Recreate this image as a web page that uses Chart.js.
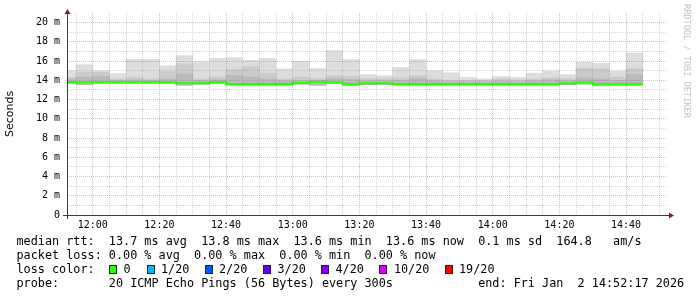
<!DOCTYPE html>
<html><head><meta charset="utf-8">
<script src="https://cdn.jsdelivr.net/npm/chart.js@4.4.1/dist/chart.umd.min.js"></script>
<style>
html,body{margin:0;padding:0;background:#fff;}
#wrap{position:relative;width:697px;height:297px;overflow:hidden;background:#fff;}
canvas{position:absolute;left:0;top:0;}
.leg{position:absolute;left:16.5px;font-family:'DejaVu Sans Mono',monospace;font-size:11.8px;line-height:14px;white-space:pre;color:#000;}
.box{position:absolute;width:8px;height:9px;box-sizing:border-box;border:1px solid #222;top:264.5px;}
.lab{position:absolute;font-family:'DejaVu Sans Mono',monospace;font-size:11.8px;line-height:14px;white-space:pre;color:#000;top:262px;}
#rrd{position:absolute;left:682px;top:4px;writing-mode:vertical-rl;font-family:'DejaVu Sans Mono',monospace;font-size:8.6px;color:#c4c4c4;}
</style></head>
<body><div id="wrap">
<canvas id="c" width="697" height="297"></canvas>
<div id="rrd">RRDTOOL / TOBI OETIKER</div>
<div class="leg" style="top:234px">median rtt:  13.7 ms avg  13.8 ms max  13.6 ms min  13.6 ms now  0.1 ms sd  164.8   am/s</div>
<div class="leg" style="top:248px">packet loss: 0.00 % avg  0.00 % max  0.00 % min  0.00 % now</div>
<div class="leg" style="top:262px">loss color:</div>
<div id="lossLegend"></div>
<div class="leg" style="top:276px">probe:       20 ICMP Echo Pings (56 Bytes) every 300s            end: Fri Jan  2 14:52:17 2026</div>
</div>
<script>
// ---- data ----
const binStart = ["11:50","11:55","12:00","12:05","12:10","12:15","12:20","12:25","12:30","12:35",
  "12:40","12:45","12:50","12:55","13:00","13:05","13:10","13:15","13:20","13:25",
  "13:30","13:35","13:40","13:45","13:50","13:55","14:00","14:05","14:10","14:15",
  "14:20","14:25","14:30","14:35","14:40"];
const smokeMax = [15.0,15.63,15.0,14.7,16.2,16.2,15.53,16.56,15.94,16.29,
  16.36,16.08,16.29,15.19,15.97,15.25,17.08,16.15,14.6,14.47,
  15.33,16.15,15.0,14.78,14.3,14.15,14.4,14.3,14.74,14.95,
  14.6,15.87,15.77,14.95,16.84];
const smokeMid = [14.3,14.84,14.84,14.15,14.3,14.15,14.9,15.7,14.15,14.33,
  15.12,15.43,14.74,14.15,14.33,14.2,14.5,14.4,14.15,14.15,
  14.25,14.5,14.15,14.0,14.0,14.0,14.15,14.05,14.15,14.25,
  14.15,15.25,15.19,14.33,15.19];
const smokeInner = [14.15,14.32,14.4,14.0,14.05,14.0,14.15,14.67,14.0,14.05,
  14.5,14.33,14.15,13.95,14.0,14.0,14.2,14.1,13.95,13.95,
  14.0,14.2,13.95,13.85,13.85,13.85,13.9,13.85,13.95,14.05,
  13.95,14.26,14.15,14.0,14.6];
const smokeMin = [13.7,13.55,13.7,13.7,13.7,13.7,13.7,13.5,13.6,13.7,
  13.5,13.5,13.5,13.5,13.6,13.5,13.65,13.45,13.55,13.55,
  13.5,13.5,13.5,13.5,13.5,13.5,13.5,13.5,13.5,13.5,
  13.55,13.6,13.5,13.5,13.5];
const medianRtt = [13.8,13.8,13.8,13.8,13.8,13.8,13.8,13.7,13.7,13.8,
  13.62,13.62,13.62,13.62,13.72,13.85,13.78,13.62,13.7,13.7,
  13.62,13.62,13.62,13.62,13.62,13.62,13.62,13.62,13.62,13.62,
  13.7,13.78,13.6,13.6,13.6];
const stepMinutes = 5;
const endTime = "14:52:17";
const spanMinutes = 180;
const xTickLabels = ["12:00","12:20","12:40","13:00","13:20","13:40","14:00","14:20","14:40"];
const yTickValues = [0,2,4,6,8,10,12,14,16,18,20];
const yTickLabels = ["0","2 m","4 m","6 m","8 m","10 m","12 m","14 m","16 m","18 m","20 m"];
const lossColors = ["#26ff00","#00b8ff","#0059ff","#5e00ff","#7e00ff","#dd00ff","#ff0000"];
const lossLabels = ["0","1/20","2/20","3/20","4/20","10/20","19/20"];

// ---- helpers ----
const toMin = s => { const p = s.split(":").map(Number); return p[0]*60 + p[1] + (p[2]||0)/60; };
const xMax = toMin(endTime), xMin = xMax - spanMinutes;
const xTickValues = xTickLabels.map(toMin);

// loss legend (HTML)
const boxX = [109,146.5,204.5,263,321,379.4,444.5];
const ll = document.getElementById('lossLegend');
lossColors.forEach((c,i)=>{
  const b = document.createElement('div'); b.className='box'; b.style.left=boxX[i]+'px'; b.style.background=c; ll.appendChild(b);
  const t = document.createElement('div'); t.className='lab'; t.style.left=(boxX[i]+14.5)+'px'; t.textContent=lossLabels[i]; ll.appendChild(t);
});

const barDs = (vals, color, order) => ({
  type:'bar', grouped:false, order,
  data: binStart.map((s,i)=>({x: toMin(s)+stepMinutes/2, y:[smokeMin[i], vals[i]]})),
  backgroundColor: color, borderWidth:0, barPercentage:1, categoryPercentage:1
});
const medData = binStart.map((s,i)=>({x: toMin(s), y: medianRtt[i]}));
medData.push({x: toMin(binStart[binStart.length-1])+stepMinutes, y: medianRtt[medianRtt.length-1]});

const gridTicksX = []; for (let v = Math.ceil(xMin/stepMinutes)*stepMinutes; v <= xMax; v += stepMinutes) gridTicksX.push(v);
const gridTicksY = []; for (let v = 0; v <= 20; v++) gridTicksY.push(v);

const axisPlugin = {
  id:'rrdAxes',
  afterDraw(chart){
    const {ctx, chartArea:a} = chart;
    ctx.save();
    ctx.strokeStyle = '#3a3a3a'; ctx.lineWidth = 1;
    ctx.beginPath(); ctx.moveTo(a.left-4, a.bottom+0.5); ctx.lineTo(a.right+3, a.bottom+0.5); ctx.stroke();
    ctx.beginPath(); ctx.moveTo(a.left+0.5, a.bottom+4); ctx.lineTo(a.left+0.5, a.top-2); ctx.stroke();
    ctx.fillStyle = '#801f1f';
    ctx.beginPath(); ctx.moveTo(a.right+2, a.bottom-2.5); ctx.lineTo(a.right+7, a.bottom+0.5); ctx.lineTo(a.right+2, a.bottom+3.5); ctx.closePath(); ctx.fill();
    ctx.beginPath(); ctx.moveTo(a.left-2.5, a.top+1); ctx.lineTo(a.left+0.5, a.top-4); ctx.lineTo(a.left+3.5, a.top+1); ctx.closePath(); ctx.fill();
    ctx.restore();
  }
};

const minorGrid = 'rgba(143,143,143,0.38)', majorGrid = 'rgba(222,79,79,0.42)';
new Chart(document.getElementById('c'), {
  type:'line',
  data:{datasets:[
    {type:'line', order:0, data:medData, stepped:true, borderColor:'#26ff00', borderWidth:2, pointRadius:0, fill:false},
    barDs(smokeInner,'#bababa',1),
    barDs(smokeMid,'#cbcbcb',2),
    barDs(smokeMax,'#dddddd',3)
  ]},
  options:{
    responsive:false, animation:false, devicePixelRatio:1,
    layout:{padding:{left:0,right:30,top:12,bottom:62}},
    plugins:{legend:{display:false}, tooltip:{enabled:false}},
    scales:{
      x:{type:'linear', min:xMin, max:xMax, offset:false,
        afterBuildTicks: s => { s.ticks = gridTicksX.map(v=>({value:v})); },
        afterFit: s => { s.height = 20; },
        grid:{z:1, offset:false, drawTicks:false, lineWidth:1,
          color: c => xTickValues.some(t=>Math.abs(t-c.tick.value)<1e-6) ? majorGrid : minorGrid},
        border:{display:false, dash:[1,1]},
        ticks:{autoSkip:false, maxRotation:0, padding:4, color:'#000',
          font:{family:"'DejaVu Sans Mono'", size:10},
          callback: v => { const i = xTickValues.findIndex(t=>Math.abs(t-v)<1e-6); return i>=0 ? xTickLabels[i] : ''; }}
      },
      y:{type:'linear', min:0, max:21,
        afterBuildTicks: s => { s.ticks = gridTicksY.map(v=>({value:v})); },
        afterFit: s => { s.width = 67; },
        grid:{z:1, drawTicks:false, lineWidth:1,
          color: c => yTickValues.includes(c.tick.value) ? majorGrid : minorGrid},
        border:{display:false, dash:[1,1]},
        ticks:{autoSkip:false, padding:7, color:'#000',
          font:{family:"'DejaVu Sans Mono'", size:10},
          callback: v => { const i = yTickValues.indexOf(v); return i>=0 ? yTickLabels[i] : ''; }},
        title:{display:true, text:'Seconds', color:'#000', padding:{top:4,bottom:0},
          font:{family:"'DejaVu Sans'", size:11}}
      }
    }
  },
  plugins:[axisPlugin]
});
</script>
</body></html>
